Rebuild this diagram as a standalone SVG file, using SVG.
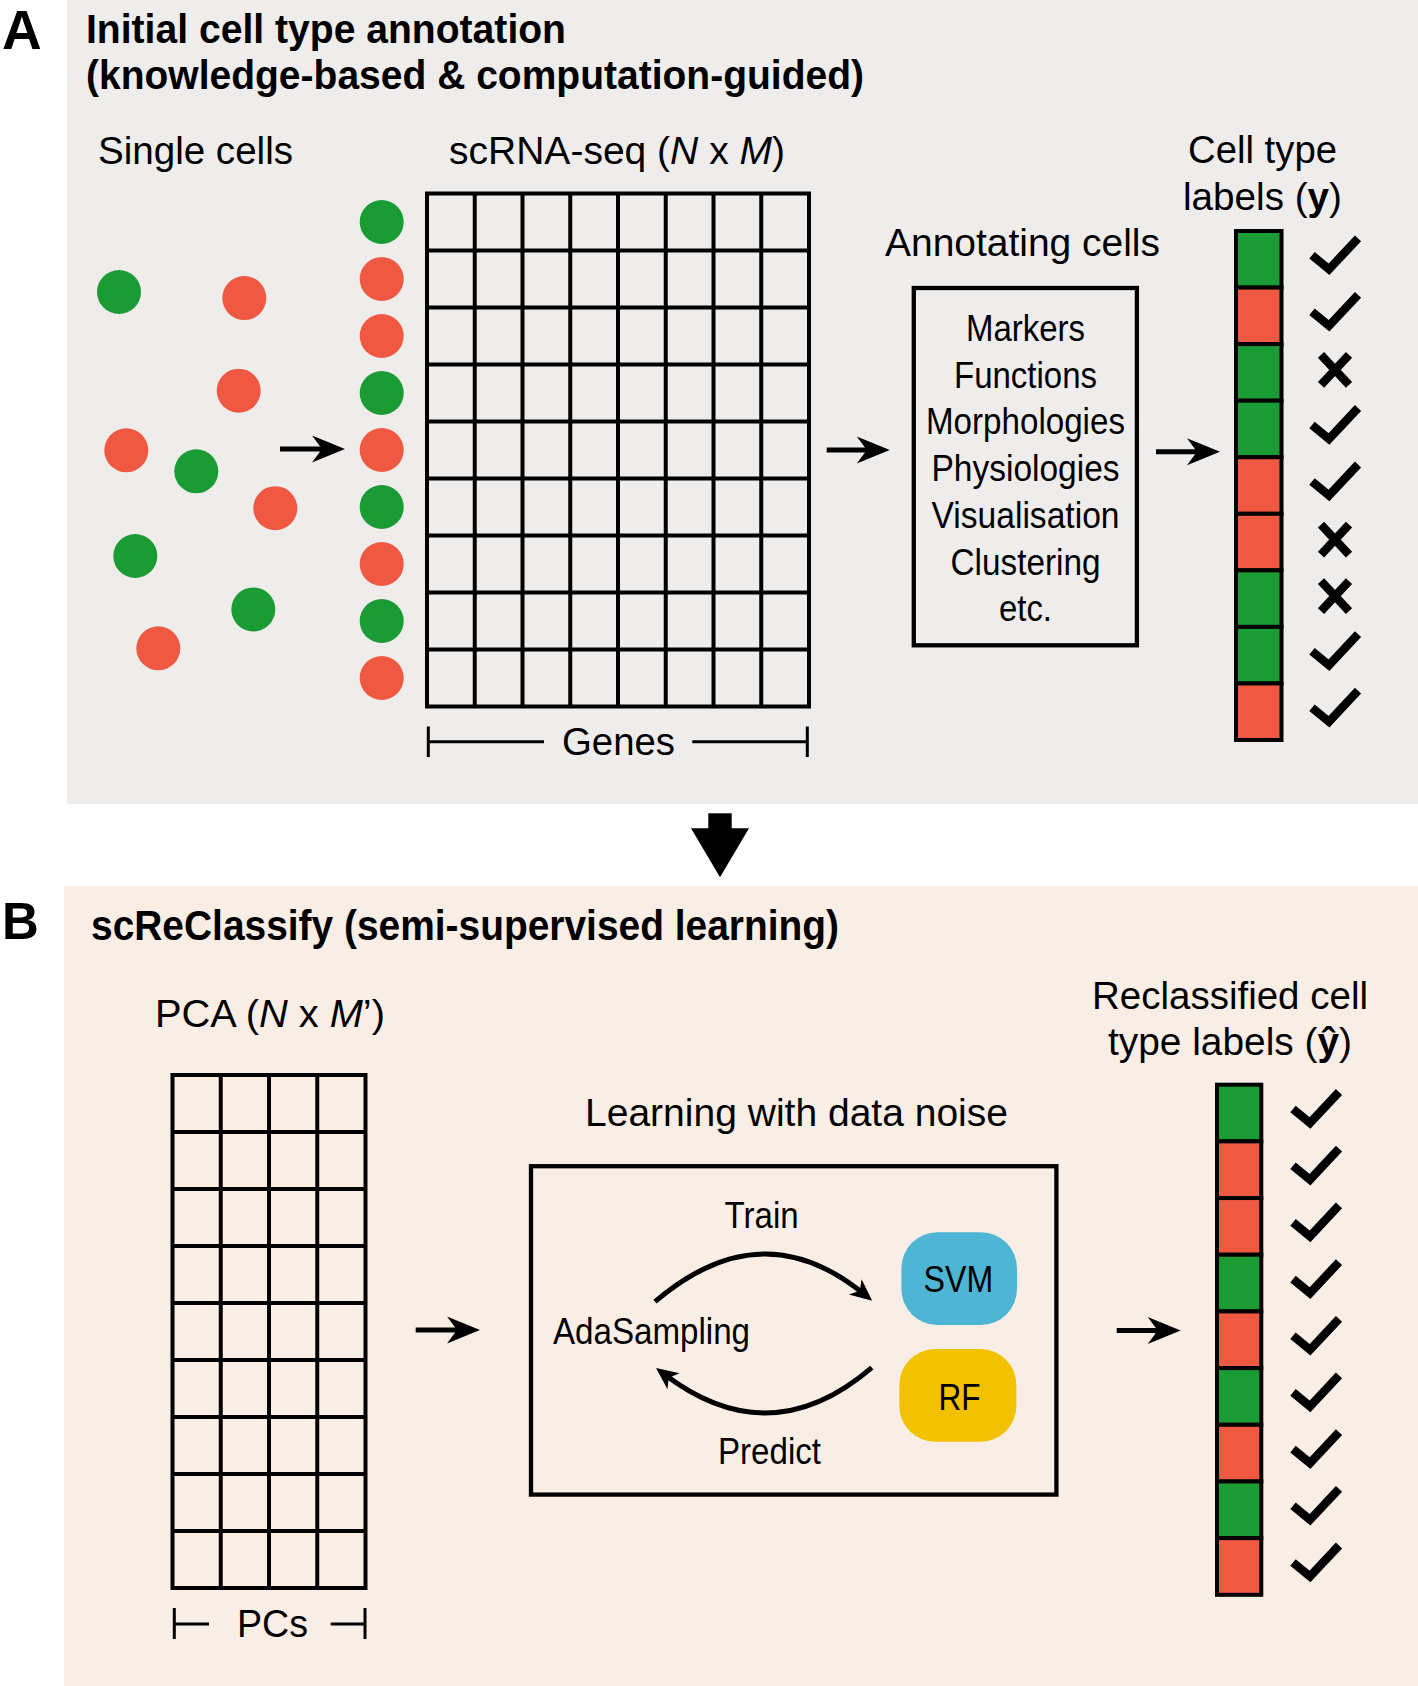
<svg xmlns="http://www.w3.org/2000/svg" xmlns:xlink="http://www.w3.org/1999/xlink" width="1418" height="1686" viewBox="0 0 1418 1686">
<style>
.t{font-family:"Liberation Sans",Arial,Helvetica,sans-serif;fill:#000}
.b{font-weight:bold}
.f38{font-size:38px}
.f37{font-size:37px}
.grid{fill:none;stroke:#000;stroke-width:4}
.g{fill:#1B9B34}
.r{fill:#EF5941}
.cell{stroke:#000;stroke-width:4}
.ln{stroke:#000;stroke-width:5;fill:none}
.br{stroke:#000;stroke-width:3;fill:none}
.mk{fill:none;stroke:#000;stroke-width:8.5;stroke-linejoin:miter;stroke-miterlimit:10}
.box{fill:none;stroke:#000;stroke-width:4.3}
</style>
<defs>
<path id="ah" d="M0,0 L-33,-13.5 L-23,0 L-33,13.5 Z" fill="#000"/>
<path id="chk" d="M-17,-4 L0,10 L29,-21" class="mk"/>
<path id="crs" d="M-14,-15 L14,15 M14,-15 L-14,15" class="mk"/>
<marker id="arcHead" viewBox="-25 -12 40 24" markerWidth="40" markerHeight="24" refX="-10" refY="0" orient="auto" markerUnits="userSpaceOnUse">
<path d="M0,0 L-22,-10 L-16,0 L-22,10 Z" fill="#000"/>
</marker>
</defs>

<g id="backgrounds">
<rect x="67" y="0" width="1351" height="804" fill="#EFECEC"/>
<rect x="64" y="886" width="1354" height="800" fill="#F9EEE6"/>
</g>

<g id="panelA-titles">
<text class="t b" x="2" y="49" font-size="55">A</text>
<text class="t b" x="86" y="43" font-size="41" textLength="480" lengthAdjust="spacingAndGlyphs">Initial cell type annotation</text>
<text class="t b" x="86" y="89" font-size="41" textLength="778" lengthAdjust="spacingAndGlyphs">(knowledge-based &amp; computation-guided)</text>
</g>

<g id="single-cells">
<text class="t f38" x="98" y="164" textLength="195" lengthAdjust="spacingAndGlyphs">Single cells</text>
<circle class="g" cx="119" cy="292" r="22"/>
<circle class="r" cx="244.3" cy="298.1" r="22"/>
<circle class="r" cx="238.7" cy="390.7" r="22"/>
<circle class="r" cx="126.3" cy="450.3" r="22"/>
<circle class="g" cx="196.3" cy="471.3" r="22"/>
<circle class="r" cx="275.3" cy="508.2" r="22"/>
<circle class="g" cx="135.3" cy="556" r="22"/>
<circle class="g" cx="253.3" cy="609.4" r="22"/>
<circle class="r" cx="158.3" cy="648.3" r="22"/>
</g>

<g id="ordered-cells">
<circle class="g" cx="381.7" cy="222" r="22"/>
<circle class="r" cx="381.7" cy="279" r="22"/>
<circle class="r" cx="381.7" cy="336" r="22"/>
<circle class="g" cx="381.7" cy="393" r="22"/>
<circle class="r" cx="381.7" cy="450" r="22"/>
<circle class="g" cx="381.7" cy="507" r="22"/>
<circle class="r" cx="381.7" cy="564" r="22"/>
<circle class="g" cx="381.7" cy="621" r="22"/>
<circle class="r" cx="381.7" cy="678" r="22"/>
</g>

<g id="scrnaseq-matrix">
<text class="t f38" x="449" y="164" textLength="336" lengthAdjust="spacingAndGlyphs">scRNA-seq (<tspan font-style="italic">N</tspan> x <tspan font-style="italic">M</tspan>)</text>
<rect class="grid" x="427" y="193.5" width="382" height="513"/>
<path class="grid" d="M474.75,193.5V706.5M522.5,193.5V706.5M570.25,193.5V706.5M618,193.5V706.5M665.75,193.5V706.5M713.5,193.5V706.5M761.25,193.5V706.5M427,250.5H809M427,307.5H809M427,364.5H809M427,421.5H809M427,478.5H809M427,535.5H809M427,592.5H809M427,649.5H809"/>
<path class="br" d="M428.3,726.5V757M428.3,741.8H544M692.3,741.8H807.3M807.3,726.5V757"/>
<text class="t f38" x="562" y="755" textLength="113" lengthAdjust="spacingAndGlyphs">Genes</text>
</g>

<g id="annotating-cells">
<text class="t f38" x="885" y="256" textLength="275" lengthAdjust="spacingAndGlyphs">Annotating cells</text>
<rect class="box" x="913.8" y="288" width="223.1" height="357.3"/>
<g class="t f37" text-anchor="middle">
<text x="1025.5" y="341" textLength="119" lengthAdjust="spacingAndGlyphs">Markers</text>
<text x="1025.5" y="387.5" textLength="143" lengthAdjust="spacingAndGlyphs">Functions</text>
<text x="1025.5" y="434" textLength="199" lengthAdjust="spacingAndGlyphs">Morphologies</text>
<text x="1025.5" y="480.5" textLength="188" lengthAdjust="spacingAndGlyphs">Physiologies</text>
<text x="1025.5" y="527.5" textLength="188" lengthAdjust="spacingAndGlyphs">Visualisation</text>
<text x="1025.5" y="574.5" textLength="150" lengthAdjust="spacingAndGlyphs">Clustering</text>
<text x="1025.5" y="621" textLength="53" lengthAdjust="spacingAndGlyphs">etc.</text>
</g>
</g>

<g id="cell-type-labels">
<text class="t f38" x="1188" y="163" textLength="149" lengthAdjust="spacingAndGlyphs">Cell type</text>
<text class="t f38" x="1183" y="210" textLength="159" lengthAdjust="spacingAndGlyphs">labels (<tspan font-weight="bold">y</tspan>)</text>
<rect class="cell g" x="1236" y="231" width="45.5" height="56.56"/>
<rect class="cell r" x="1236" y="287.56" width="45.5" height="56.56"/>
<rect class="cell g" x="1236" y="344.11" width="45.5" height="56.56"/>
<rect class="cell g" x="1236" y="400.67" width="45.5" height="56.56"/>
<rect class="cell r" x="1236" y="457.22" width="45.5" height="56.56"/>
<rect class="cell r" x="1236" y="513.78" width="45.5" height="56.56"/>
<rect class="cell g" x="1236" y="570.33" width="45.5" height="56.56"/>
<rect class="cell g" x="1236" y="626.89" width="45.5" height="56.56"/>
<rect class="cell r" x="1236" y="683.44" width="45.5" height="56.56"/>
<use href="#chk" x="1329" y="259.3"/>
<use href="#chk" x="1329" y="315.8"/>
<use href="#crs" x="1335" y="369.9"/>
<use href="#chk" x="1329" y="429"/>
<use href="#chk" x="1329" y="485.5"/>
<use href="#crs" x="1335" y="539.6"/>
<use href="#crs" x="1335" y="596.1"/>
<use href="#chk" x="1329" y="655.2"/>
<use href="#chk" x="1329" y="711.7"/>
</g>

<g id="panelB-titles">
<text class="t b" x="2" y="939" font-size="51">B</text>
<text class="t b" x="91" y="940" font-size="42" textLength="748" lengthAdjust="spacingAndGlyphs">scReClassify (semi-supervised learning)</text>
</g>

<g id="pca-matrix">
<text class="t f38" x="155" y="1027" textLength="230" lengthAdjust="spacingAndGlyphs">PCA (<tspan font-style="italic">N</tspan> x <tspan font-style="italic">M</tspan>’)</text>
<rect class="grid" x="172.5" y="1075" width="193" height="513"/>
<path class="grid" d="M220.75,1075V1588M269,1075V1588M317.25,1075V1588M172.5,1132H365.5M172.5,1189H365.5M172.5,1246H365.5M172.5,1303H365.5M172.5,1360H365.5M172.5,1417H365.5M172.5,1474H365.5M172.5,1531H365.5"/>
<path class="br" d="M174.3,1608V1639M174.3,1624H209M330.7,1624H365M365,1608V1639"/>
<text class="t f38" x="237" y="1637" textLength="71" lengthAdjust="spacingAndGlyphs">PCs</text>
</g>

<g id="learning-box">
<text class="t f38" x="585" y="1126" textLength="423" lengthAdjust="spacingAndGlyphs">Learning with data noise</text>
<rect class="box" x="531" y="1166.2" width="525.4" height="328.4"/>
<text class="t f37" x="724.6" y="1228" textLength="74" lengthAdjust="spacingAndGlyphs">Train</text>
<text class="t f37" x="553" y="1344" textLength="197" lengthAdjust="spacingAndGlyphs">AdaSampling</text>
<text class="t f37" x="718" y="1464" textLength="103" lengthAdjust="spacingAndGlyphs">Predict</text>
</g>

<g id="svm">
<rect x="901.4" y="1232.3" width="115.6" height="92.7" rx="36" fill="#4FB5D5"/>
<text class="t f37" x="923.6" y="1291.5" textLength="69.6" lengthAdjust="spacingAndGlyphs">SVM</text>
</g>

<g id="rf">
<rect x="899.3" y="1349" width="117.1" height="92.7" rx="36" fill="#F2C100"/>
<text class="t f37" x="938.6" y="1410" textLength="42" lengthAdjust="spacingAndGlyphs">RF</text>
</g>

<g id="reclassified-labels">
<text class="t f38" x="1092" y="1009" textLength="276" lengthAdjust="spacingAndGlyphs">Reclassified cell</text>
<text class="t f38" x="1108" y="1055" textLength="244" lengthAdjust="spacingAndGlyphs">type labels (<tspan font-weight="bold">ŷ</tspan>)</text>
<rect class="cell g" x="1217" y="1084.7" width="44.3" height="56.68"/>
<rect class="cell r" x="1217" y="1141.38" width="44.3" height="56.68"/>
<rect class="cell r" x="1217" y="1198.06" width="44.3" height="56.68"/>
<rect class="cell g" x="1217" y="1254.74" width="44.3" height="56.68"/>
<rect class="cell r" x="1217" y="1311.42" width="44.3" height="56.68"/>
<rect class="cell g" x="1217" y="1368.1" width="44.3" height="56.68"/>
<rect class="cell r" x="1217" y="1424.78" width="44.3" height="56.68"/>
<rect class="cell g" x="1217" y="1481.46" width="44.3" height="56.68"/>
<rect class="cell r" x="1217" y="1538.14" width="44.3" height="56.68"/>
<use href="#chk" x="1310" y="1113"/>
<use href="#chk" x="1310" y="1169.7"/>
<use href="#chk" x="1310" y="1226.4"/>
<use href="#chk" x="1310" y="1283.1"/>
<use href="#chk" x="1310" y="1339.8"/>
<use href="#chk" x="1310" y="1396.4"/>
<use href="#chk" x="1310" y="1453.1"/>
<use href="#chk" x="1310" y="1509.8"/>
<use href="#chk" x="1310" y="1566.5"/>
</g>

<g id="connectors">
<line class="ln" x1="280" y1="449" x2="323" y2="449"/>
<use href="#ah" x="345" y="449"/>
<line class="ln" x1="826.7" y1="450" x2="868" y2="450"/>
<use href="#ah" x="889.8" y="450"/>
<line class="ln" x1="1156" y1="451.7" x2="1198" y2="451.7"/>
<use href="#ah" x="1220" y="451.7"/>
<rect x="708.3" y="813.3" width="23.4" height="16" fill="#000"/>
<polygon points="691,828.3 749,828.3 720,877.3" fill="#000"/>
<line class="ln" x1="415.7" y1="1330" x2="458" y2="1330"/>
<use href="#ah" x="480" y="1330"/>
<line class="ln" x1="1116.7" y1="1330.6" x2="1159" y2="1330.6"/>
<use href="#ah" x="1180.7" y="1330.6"/>
<path class="ln" d="M655,1301.7 Q762,1210 864.5,1294.5" marker-end="url(#arcHead)"/>
<path class="ln" d="M871.8,1367.7 Q770,1455 664,1374" marker-end="url(#arcHead)"/>
</g>
</svg>
